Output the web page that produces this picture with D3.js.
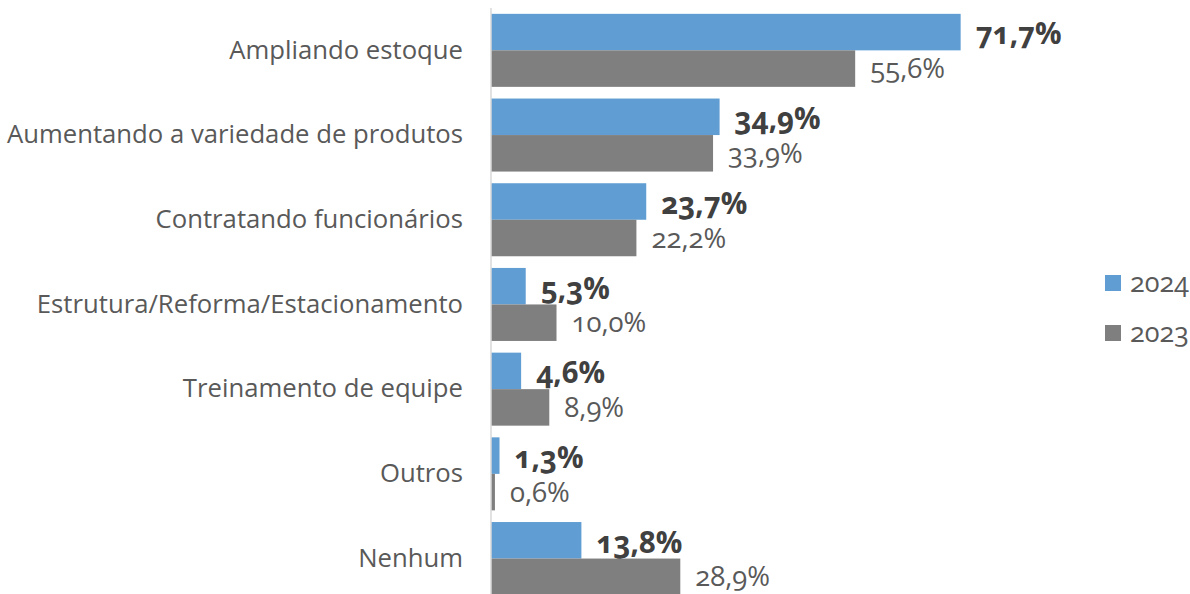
<!DOCTYPE html>
<html>
<head>
<meta charset="utf-8">
<script src="https://cdn.jsdelivr.net/npm/d3@7"></script>
<style>
  body { margin: 0; background: #fff; }
  svg { font-family: "Open Sans", Lato, sans-serif; font-variant-numeric: oldstyle-nums; }
</style>
</head>
<body>
<svg id="viz"></svg>
<script>
// ----------------------- DATA
const categories = [
  'Ampliando estoque',
  'Aumentando a variedade de produtos',
  'Contratando funcionários',
  'Estrutura/Reforma/Estacionamento',
  'Treinamento de equipe',
  'Outros',
  'Nenhum'
];
const seriesNames = ['2024', '2023'];
const values2024 = [71.7, 34.9, 23.7, 5.3, 4.6, 1.3, 13.8];
const values2023 = [55.6, 33.9, 22.2, 10.0, 8.9, 0.6, 28.9];

// ----------------------- SETTINGS
const width = 1190, height = 594;
const colors = { '2024': '#5f9dd3', '2023': '#7f7f7f' };

const svg = d3.select('#viz')
  .attr('width', width)
  .attr('height', height);

const fmt = v => d3.format('.1f')(v).replace('.', ',') + '%';

// ----------------------- SCALES
const x = d3.scaleLinear()
  .domain([0, 80])
  .range([491, 491 + 80 * 6.55]);

const y = d3.scaleBand()
  .domain(categories)
  .range([8, 600.9])
  .paddingInner(0.138)
  .paddingOuter(0.069);

const ySub = d3.scaleBand()
  .domain(seriesNames)
  .range([0, y.bandwidth()]);

const rows = categories.map((c, i) => ({
  cat: c,
  bars: [
    { key: '2024', v: values2024[i] },
    { key: '2023', v: values2023[i] }
  ]
}));

// ----------------------- BARS
const groups = svg.selectAll('.group')
  .data(rows)
  .enter().append('g')
  .attr('class', 'group')
  .attr('transform', d => `translate(0, ${y(d.cat)})`);

groups.selectAll('rect')
  .data(d => d.bars)
  .enter().append('rect')
  .attr('x', x(0))
  .attr('y', d => ySub(d.key))
  .attr('width', d => x(d.v) - x(0))
  .attr('height', ySub.bandwidth())
  .attr('fill', d => colors[d.key]);

// value labels (2023 ones sit a touch higher so the last one stays inside)
groups.selectAll('.val')
  .data(d => d.bars)
  .enter().append('text')
  .attr('class', 'val')
  .attr('x', d => x(d.v) + 15)
  .attr('y', d => ySub(d.key) + ySub.bandwidth() / 2 + (d.key === '2024' ? 2 : 0))
  .attr('dy', '0.35em')
  .attr('fill', d => d.key === '2024' ? '#404040' : '#595959')
  .style('font-size', d => d.key === '2024' ? '29.5px' : '27.5px')
  .style('font-weight', d => d.key === '2024' ? 'bold' : 'normal')
  .text(d => fmt(d.v));

// ----------------------- AXIS
const yAxis = d3.axisLeft(y).tickSize(0).tickPadding(28);

const axisG = svg.append('g')
  .attr('transform', `translate(${x(0)}, 0)`)
  .call(yAxis);

axisG.select('.domain')
  .attr('stroke', '#d9d9d9')
  .attr('stroke-width', 1.5)
  .attr('d', `M0,8V${height}`);

axisG.selectAll('.tick text')
  .attr('fill', '#595959')
  .style('font-size', '25.7px')
  .style('font-family', '"Open Sans", Lato, sans-serif');

// ----------------------- LEGEND
const legend = svg.selectAll('.legend')
  .data(seriesNames)
  .enter().append('g')
  .attr('class', 'legend')
  .attr('transform', (d, i) => `translate(1105, ${275 + i * 50})`);

legend.append('rect')
  .attr('width', 16)
  .attr('height', 16)
  .attr('fill', d => colors[d]);

legend.append('text')
  .attr('x', 25)
  .attr('y', 8)
  .attr('dy', '0.35em')
  .attr('fill', '#595959')
  .style('font-size', '27px')
  .text(d => d);
</script>
</body>
</html>
